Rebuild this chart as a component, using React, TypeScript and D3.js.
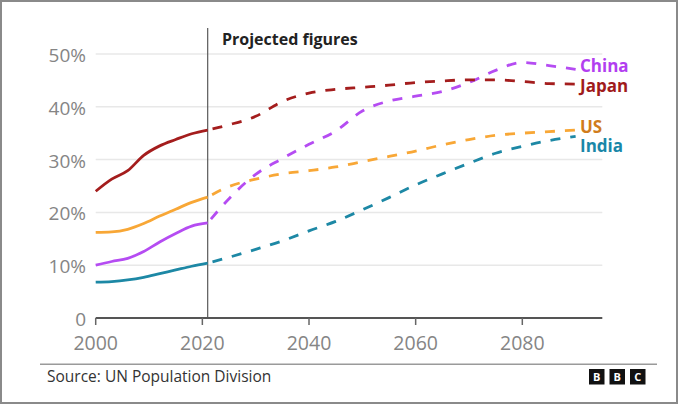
import React from 'react';
import * as d3 from 'd3';

// share of population aged 60+ (%)
const histYears = [2000, 2003, 2006, 2009, 2012, 2015, 2018, 2021];
const projYears = [2021, 2025, 2030, 2035, 2040, 2045, 2050, 2055, 2060, 2065, 2070, 2075, 2080, 2085, 2090];

const japanHist = [24.0, 26.3, 27.9, 30.8, 32.6, 33.8, 34.9, 35.6];
const chinaHist = [10.0, 10.7, 11.3, 12.6, 14.4, 16.0, 17.4, 18.0];
const usHist = [16.2, 16.3, 16.8, 17.9, 19.3, 20.6, 21.9, 22.9];
const indiaHist = [6.8, 6.9, 7.2, 7.7, 8.4, 9.1, 9.8, 10.4];

const japanProj = [35.6, 36.6, 38.2, 41.0, 42.6, 43.3, 43.7, 44.1, 44.6, 44.9, 45.1, 45.1, 44.8, 44.4, 44.3];
const chinaProj = [18.0, 22.6, 27.2, 30.2, 32.9, 35.4, 39.2, 41.1, 42.0, 42.9, 44.6, 46.9, 48.4, 47.8, 47.1];
const usProj = [22.9, 24.9, 26.3, 27.3, 27.9, 28.6, 29.6, 30.6, 31.6, 32.8, 33.8, 34.6, 35.0, 35.3, 35.6];
const indiaProj = [10.4, 11.5, 13.0, 14.6, 16.5, 18.3, 20.5, 22.8, 25.2, 27.3, 29.3, 31.2, 32.5, 33.6, 34.4];

const yTicks = [0, 10, 20, 30, 40, 50];
const xTicks = [2000, 2020, 2040, 2060, 2080];

const series = [
  { name: 'China', hist: chinaHist, proj: chinaProj, line: '#b54cf2', label: '#b23ef0', ly: 71.7 },
  { name: 'Japan', hist: japanHist, proj: japanProj, line: '#a41d1d', label: '#a01b1b', ly: 92 },
  { name: 'US', hist: usHist, proj: usProj, line: '#f8a736', label: '#d07c1c', ly: 133.3 },
  { name: 'India', hist: indiaHist, proj: indiaProj, line: '#1d88a5', label: '#1a87a8', ly: 152 },
];

const font = '"Open Sans", Roboto, sans-serif';

export default function App() {
  const W = 678, H = 405;
  const x = d3.scaleLinear().domain([2000, 2095]).range([95.7, 602.3]);
  const y = d3.scaleLinear().domain([0, 50]).range([318, 54]);
  const line = d3.line<[number, number]>().x(d => x(d[0])).y(d => y(d[1])).curve(d3.curveMonotoneX);
  const cut = 2021;

  return (
    <svg width={W} height={H} style={{ position: 'absolute', left: 0, top: 0, background: '#fff' }} fontFamily={font}>
      <rect x={1} y={1} width={W - 2} height={H - 3} fill="#fff" stroke="#8a8a8a" strokeWidth={2} />

      {yTicks.filter(t => t > 0).map(t => (
        <line key={t} x1={x(2000)} x2={x(2095)} y1={y(t)} y2={y(t)} stroke="#e8e8e8" strokeWidth={1.5} />
      ))}
      {yTicks.map(t => (
        <text key={t} x={86} y={y(t) + 1} textAnchor="end" dominantBaseline="central" fontSize={19} fill="#858585">
          {t === 0 ? '0' : `${t}%`}
        </text>
      ))}

      <line x1={x(cut)} x2={x(cut)} y1={28} y2={y(0)} stroke="#5a5a5a" strokeWidth={1.2} />
      <text x={222} y={45} fontSize={16} fontWeight={700} fill="#222">Projected figures</text>

      {series.map(s => (
        <g key={s.name}>
          <path d={line(histYears.map((yr, i) => [yr, s.hist[i]]))!} fill="none" stroke={s.line} strokeWidth={2.8} />
          <path d={line(projYears.map((yr, i) => [yr, s.proj[i]]))!} fill="none" stroke={s.line} strokeWidth={2.8}
            strokeDasharray="10,10" strokeDashoffset={-5} />
          <text x={580} y={s.ly} fontSize={17} fontWeight={700} fill={s.label}>{s.name}</text>
        </g>
      ))}

      <line x1={x(2000)} x2={x(2095)} y1={y(0)} y2={y(0)} stroke="#555" strokeWidth={2.2} />
      {xTicks.map(t => (
        <g key={t}>
          <line x1={x(t)} x2={x(t)} y1={y(0)} y2={y(0) + 7} stroke="#666" strokeWidth={1.5} />
          <text x={x(t)} y={350} textAnchor="middle" fontSize={19.5} fill="#858585">{t}</text>
        </g>
      ))}

      <line x1={40} x2={657} y1={364.3} y2={364.3} stroke="#9a9a9a" strokeWidth={1.6} />
      <text x={47} y={382} fontSize={15.5} fill="#333">Source: UN Population Division</text>
      {['B', 'B', 'C'].map((c, i) => (
        <g key={i}>
          <rect x={589 + i * 20.5} y={369} width={15.5} height={15.5} fill="#111" />
          <text x={589 + i * 20.5 + 7.75} y={381} textAnchor="middle" fontSize={11} fontWeight={700} fill="#fff">{c}</text>
        </g>
      ))}
    </svg>
  );
}
